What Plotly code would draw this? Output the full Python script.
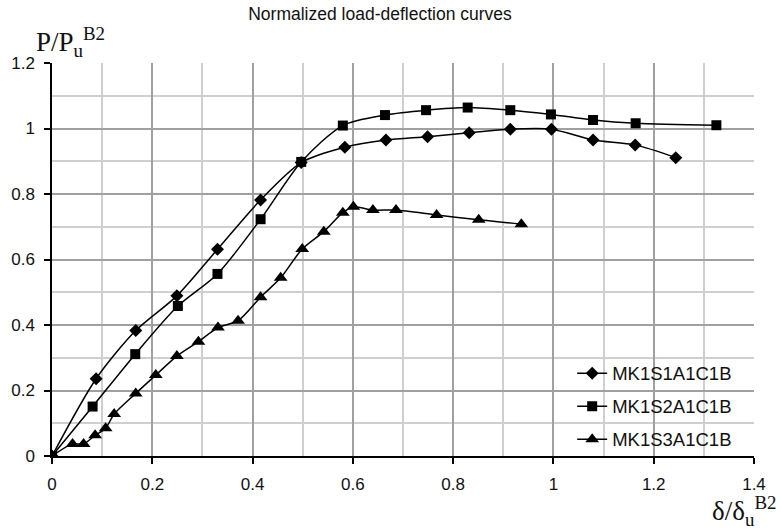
import plotly.graph_objects as go

# ---- data ----
names = ["MK1S1A1C1B", "MK1S2A1C1B", "MK1S3A1C1B"]

x_s1 = [0, 0.088, 0.167, 0.249, 0.330, 0.416, 0.497, 0.584, 0.666, 0.749, 0.832, 0.914, 0.996, 1.079, 1.163, 1.244]
y_s1 = [0, 0.236, 0.383, 0.489, 0.631, 0.782, 0.896, 0.943, 0.965, 0.975, 0.987, 0.998, 0.998, 0.965, 0.950, 0.911]

x_s2 = [0, 0.081, 0.166, 0.251, 0.330, 0.416, 0.497, 0.580, 0.664, 0.746, 0.829, 0.914, 0.995, 1.079, 1.164, 1.325]
y_s2 = [0, 0.151, 0.311, 0.458, 0.556, 0.723, 0.898, 1.009, 1.041, 1.056, 1.064, 1.056, 1.043, 1.026, 1.016, 1.010]

x_s3 = [0, 0.041, 0.063, 0.086, 0.107, 0.124, 0.167, 0.207, 0.249, 0.292, 0.331, 0.371, 0.416, 0.456,
        0.499, 0.542, 0.580, 0.601, 0.640, 0.686, 0.767, 0.851, 0.936]
y_s3 = [0, 0.037, 0.037, 0.063, 0.085, 0.128, 0.191, 0.247, 0.305, 0.349, 0.392, 0.413, 0.485, 0.544,
        0.632, 0.685, 0.743, 0.761, 0.751, 0.751, 0.736, 0.721, 0.708]

symbols = ["diamond", "square", "triangle-up"]
sizes = [10, 10, 12]

x_ticks = [0, 0.2, 0.4, 0.6, 0.8, 1, 1.2, 1.4]
y_ticks = [0, 0.2, 0.4, 0.6, 0.8, 1, 1.2]

title_text = "Normalized load-deflection curves"
y_title = "P/P<sub>u</sub><sup>B2</sup>"
x_title = "δ/δ<sub>u</sub><sup>B2</sup>"

fig = go.Figure()
for nm, xs, ys, sym, sz in zip(names, [x_s1, x_s2, x_s3], [y_s1, y_s2, y_s3], symbols, sizes):
    fig.add_trace(go.Scatter(
        x=xs, y=ys, name=nm, mode="lines+markers", legendgroup=nm,
        line=dict(color="black", width=1.5, shape="spline", smoothing=0.8),
        marker=dict(symbol=sym, size=sz, color="black"),
    ))

W, H = 781, 531
ml, mr, mt, mb = 52, 27, 63, 75

fig.update_layout(
    width=W, height=H,
    margin=dict(l=ml, r=mr, t=mt, b=mb, pad=0),
    paper_bgcolor="white", plot_bgcolor="white",
    font=dict(family="Liberation Sans, Arial, sans-serif", size=17, color="#111"),
    title=dict(text=title_text, x=380 / W, xanchor="center", y=1 - 14 / H, yanchor="middle",
               font=dict(size=17.5, color="#111")),
    showlegend=True,
    legend=dict(x=0.741, xanchor="left", y=0.258, yanchor="top",
                bgcolor="rgba(255,255,255,0)", borderwidth=0,
                traceorder="grouped", tracegroupgap=6,
                font=dict(size=18.5, color="#111")),
)

fig.update_xaxes(
    range=[0, 1.4], tickvals=x_ticks, ticktext=[f"{v:g}" for v in x_ticks],
    showgrid=True, gridcolor="#a0a0a0", gridwidth=1.8,
    minor=dict(dtick=0.1, tick0=0, showgrid=True, gridcolor="#cfcfcf", gridwidth=1.8),
    showline=True, linecolor="black", linewidth=1.5,
    ticks="outside", ticklen=6, tickcolor="black", tickwidth=1.5,
    zeroline=False, ticklabelstandoff=6,
)
fig.update_yaxes(
    range=[0, 1.2], tickvals=y_ticks, ticktext=[f"{v:g}" for v in y_ticks],
    showgrid=True, gridcolor="#a0a0a0", gridwidth=1.8,
    minor=dict(dtick=0.1, tick0=0, showgrid=True, gridcolor="#cfcfcf", gridwidth=1.8),
    showline=True, linecolor="black", linewidth=1.5,
    ticks="outside", ticklen=6, tickcolor="black", tickwidth=1.5,
    zeroline=False, ticklabelstandoff=6,
)

pw = W - ml - mr
ph = H - mt - mb
def px(xp):
    return (xp - ml) / pw
def py(yp):
    return (H - mb - yp) / ph

# white legend background box (hides grid behind legend)
fig.add_shape(type="rect", xref="paper", yref="paper",
              x0=px(541), x1=px(747), y0=py(456), y1=py(355),
              fillcolor="white", line=dict(width=0), layer="between")

fig.add_annotation(text=y_title, xref="paper", yref="paper", x=px(34), y=py(42),
                   xanchor="left", yanchor="middle", showarrow=False,
                   font=dict(family="Liberation Serif, Times New Roman, serif", size=27, color="#111"))
fig.add_annotation(text=x_title, xref="paper", yref="paper", x=px(778), y=py(511),
                   xanchor="right", yanchor="middle", showarrow=False,
                   font=dict(family="Liberation Serif, Times New Roman, serif", size=27, color="#111"))

fig.write_html("out.html")
